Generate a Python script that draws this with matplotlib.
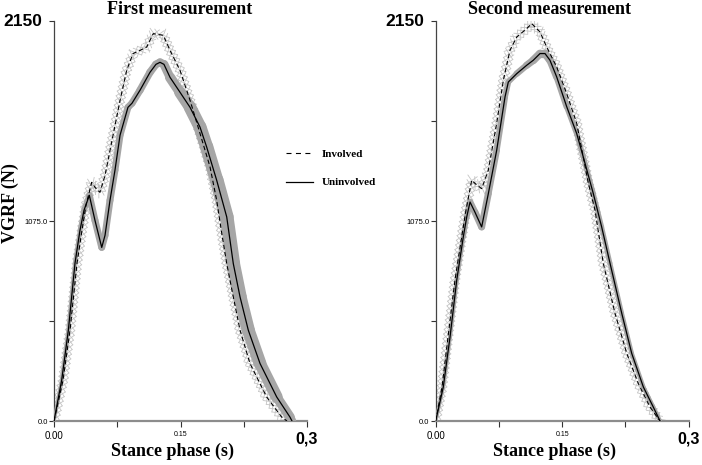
import numpy as np
import matplotlib
matplotlib.use('Agg')
import matplotlib.pyplot as plt
from matplotlib import patheffects
from matplotlib.collections import LineCollection
from matplotlib.lines import Line2D

# first measurement
t1_inv = [0, 0.0107, 0.0190, 0.0273, 0.0332, 0.0379, 0.0447, 0.0486, 0.0545, 0.0605, 0.0664, 0.0783,
          0.0862, 0.0937, 0.1020, 0.1099, 0.1177, 0.1296, 0.1376, 0.1494, 0.1613, 0.1731, 0.1850,
          0.1929, 0.1989, 0.2048, 0.2126, 0.2206, 0.2324, 0.2522, 0.2700, 0.2763]
f1_inv = [0, 219, 487, 848, 1025, 1159, 1283, 1256, 1229, 1320, 1454, 1723,
          1885, 1975, 1992, 2010, 2082, 2073, 1992, 1885, 1724, 1546, 1366,
          1186, 1009, 846, 667, 488, 309, 129, 21, 0]
t1_uni = [0, 0.0091, 0.0170, 0.0249, 0.0308, 0.0356, 0.0419, 0.0486, 0.0566, 0.0605, 0.0664, 0.0723,
          0.0783, 0.0877, 0.0925, 0.1020, 0.1138, 0.1209, 0.1257, 0.1304, 0.1376, 0.1494, 0.1613,
          0.1731, 0.1810, 0.1929, 0.2048, 0.2126, 0.2206, 0.2304, 0.2443, 0.2641, 0.2798, 0.2822]
f1_uni = [0, 219, 487, 848, 1025, 1133, 1213, 1078, 933, 998, 1186, 1348,
          1536, 1686, 1708, 1778, 1874, 1917, 1928, 1917, 1847, 1767, 1686,
          1580, 1473, 1294, 1097, 846, 667, 488, 309, 129, 21, 0]

# second measurement
t2_inv = [0, 0.0075, 0.0146, 0.0228, 0.0308, 0.0359, 0.0427, 0.0478, 0.0545, 0.0624, 0.0723, 0.0802,
          0.0881, 0.0961, 0.1079, 0.1138, 0.1237, 0.1316, 0.1435, 0.1553, 0.1672, 0.1810, 0.1889,
          0.1987, 0.2126, 0.2265, 0.2402, 0.2541, 0.2660]
f2_inv = [0, 183, 452, 756, 989, 1133, 1294, 1272, 1249, 1348, 1600, 1831,
          1993, 2064, 2109, 2136, 2091, 2010, 1903, 1760, 1600, 1278, 1133,
          848, 579, 364, 202, 75, 0]
t2_uni = [0, 0.0090, 0.0170, 0.0249, 0.0327, 0.0368, 0.0407, 0.0466, 0.0545, 0.0624, 0.0723, 0.0822,
          0.0861, 0.0961, 0.1079, 0.1157, 0.1237, 0.1296, 0.1355, 0.1435, 0.1553, 0.1672, 0.1750,
          0.1869, 0.1968, 0.2067, 0.2206, 0.2324, 0.2462, 0.2580, 0.2660]
f2_uni = [0, 183, 452, 756, 989, 1097, 1177, 1122, 1043, 1222, 1455, 1742,
          1822, 1867, 1912, 1939, 1975, 1975, 1939, 1849, 1690, 1545, 1419,
          1222, 1043, 848, 579, 364, 183, 75, 0]

titles = ['First measurement', 'Second measurement']
y_max = 2150
x_max = 0.3

# thickness (pt) of the grey band of the uninvolved curve along stance time
band_t = [[0, 0.03, 0.045, 0.06, 0.09, 0.125, 0.16, 0.2, 0.25, 0.283],
          [0, 0.03, 0.045, 0.06, 0.09, 0.125, 0.16, 0.2, 0.266]]
band_w = [[2.5, 3, 5, 5, 5, 5.5, 9, 10, 9, 6],
          [2.5, 3, 5, 5, 4, 6, 4, 3.5, 3]]

SERIF = 'Liberation Serif'
SANS = 'Liberation Sans'


def draw_panel(ax, t_inv, f_inv, t_uni, f_uni, bt, bw):
    # involved: diamond band + dashed mean
    diamonds = [patheffects.TickedStroke(spacing=3.4, angle=a, length=np.sqrt(2))
                for a in (45, 135, -45, -135)]
    ax.plot(t_inv, f_inv, color='#c4c4c4', lw=0.6, path_effects=diamonds, zorder=2)

    # uninvolved: grey band + solid mean
    pts = np.column_stack([t_uni, f_uni])
    segs = np.stack([pts[:-1], pts[1:]], axis=1)
    mid = (np.array(t_uni[:-1]) + np.array(t_uni[1:])) / 2
    lc = LineCollection(segs, linewidths=np.interp(mid, bt, bw), colors='#a6a6a6',
                        capstyle='round', joinstyle='round', zorder=3)
    ax.add_collection(lc)
    ax.plot(t_inv, f_inv, color='black', lw=0.8, ls=(0, (4, 2.5)),
            dash_joinstyle='round', zorder=4)
    ax.plot(t_uni, f_uni, color='black', lw=0.9, solid_joinstyle='round', zorder=5)

    ax.set_xlim(0, x_max)
    ax.set_ylim(0, y_max)
    for s in ('top', 'right'):
        ax.spines[s].set_visible(False)
    ax.spines['left'].set_color('#444444')
    ax.spines['left'].set_linewidth(0.9)
    ax.spines['bottom'].set_color('#8c8c8c')
    ax.spines['bottom'].set_linewidth(1.6)

    ax.set_yticks([0, 537.5, 1075, 1612.5, 2150])
    ax.set_yticklabels(['0.0', '', '1075.0', '', ''], fontsize=5.5, family=SANS)
    ax.tick_params(axis='y', length=3.5, width=0.8, color='#333333', pad=1)
    ax.set_xticks([0, 0.075, 0.15, 0.225, 0.3])
    ax.set_xticklabels(['0.00', '', '0.15', '', ''], family=SANS)
    ax.tick_params(axis='x', length=4, width=0.8, color='#333333', pad=3)
    labs = ax.get_xticklabels()
    labs[0].set_fontsize(7)
    labs[2].set_fontsize(5)

    ax.text(-0.045, 1.0, '2150', transform=ax.transAxes, ha='right', va='center',
            fontsize=12.5, fontweight='bold', family=SANS)
    ax.text(1.0, -0.045, '0,3', transform=ax.transAxes, ha='center', va='center',
            fontsize=11.5, fontweight='bold', family=SANS)
    ax.text(0.47, -0.075, 'Stance phase (s)', transform=ax.transAxes, ha='center', va='center',
            fontsize=13, fontweight='bold', family=SERIF)


fig = plt.figure(figsize=(7.02, 4.65), dpi=100)
ax1 = fig.add_axes([54 / 702, 44 / 465, 253 / 702, 400 / 465])
ax2 = fig.add_axes([435.7 / 702, 44 / 465, 253 / 702, 400 / 465])

draw_panel(ax1, t1_inv, f1_inv, t1_uni, f1_uni, band_t[0], band_w[0])
draw_panel(ax2, t2_inv, f2_inv, t2_uni, f2_uni, band_t[1], band_w[1])

fig.text(180 / 702, 1 - 9 / 465, titles[0], ha='center', va='center',
         fontsize=13, fontweight='bold', family=SERIF)
fig.text(549 / 702, 1 - 9 / 465, titles[1], ha='center', va='center',
         fontsize=13, fontweight='bold', family=SERIF)
fig.text(10 / 702, 1 - 203 / 465, 'VGRF (N)', rotation=90, ha='center', va='center',
         fontsize=13, fontweight='bold', family=SERIF)

handles = [Line2D([], [], color='black', lw=0.8, ls=(0, (4.5, 4))),
           Line2D([], [], color='black', lw=0.9)]
fig.legend(handles, ['Involved', 'Uninvolved'], loc='upper left',
           bbox_to_anchor=(286 / 702, 1 - 149 / 465), frameon=False,
           prop={'family': SERIF, 'weight': 'bold', 'size': 8},
           handlelength=2.4, handletextpad=0.8, labelspacing=1.7,
           borderpad=0, borderaxespad=0)

fig.savefig('out.png', dpi=100)
